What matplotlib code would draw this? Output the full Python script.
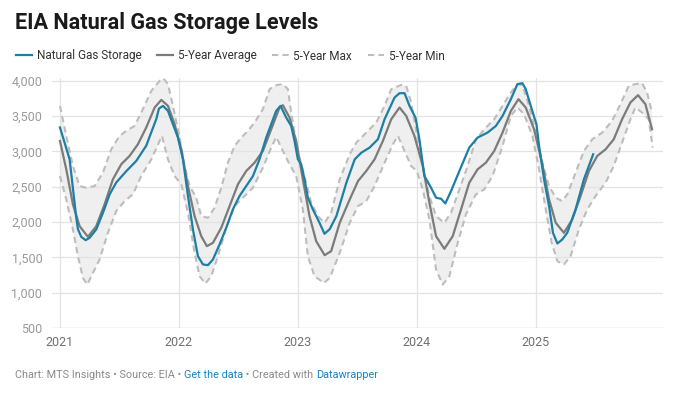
import matplotlib
matplotlib.use("Agg")
import matplotlib.pyplot as plt
import numpy as np

plt.rcParams["font.family"] = ["Roboto", "DejaVu Sans"]

# decimal years (x) and Bcf (y)
storage_x = [2021.0, 2021.081, 2021.137, 2021.151, 2021.179, 2021.216, 2021.249, 2021.305,
             2021.361, 2021.417, 2021.473, 2021.557, 2021.641, 2021.725, 2021.810, 2021.832,
             2021.866, 2021.908, 2021.950, 2021.992, 2022.034, 2022.076, 2022.118, 2022.160,
             2022.202, 2022.244, 2022.286, 2022.342, 2022.398, 2022.454, 2022.510, 2022.566,
             2022.622, 2022.678, 2022.734, 2022.776, 2022.818, 2022.854, 2022.902, 2022.944,
             2022.972, 2023.0, 2023.028, 2023.056, 2023.084, 2023.126, 2023.182, 2023.224,
             2023.268, 2023.324, 2023.408, 2023.478, 2023.534, 2023.603, 2023.673, 2023.729,
             2023.813, 2023.855, 2023.897, 2023.939, 2023.989, 2024.022, 2024.064, 2024.120,
             2024.162, 2024.204, 2024.240, 2024.288, 2024.358, 2024.441, 2024.511, 2024.595,
             2024.665, 2024.721, 2024.791, 2024.846, 2024.888, 2024.916, 2024.958, 2025.006,
             2025.028, 2025.070, 2025.112, 2025.145, 2025.182, 2025.223, 2025.265, 2025.335,
             2025.405, 2025.483]
storage_y = [3340, 2890, 2060, 1900, 1790, 1744, 1777, 1895,
             2130, 2390, 2560, 2720, 2865, 3080, 3460, 3607,
             3645, 3575, 3385, 3196, 2890, 2370, 1895, 1517,
             1400, 1390, 1470, 1683, 1920, 2180, 2370, 2510,
             2650, 2890, 3196, 3385, 3575, 3645, 3480, 3361,
             3150, 2890, 2820, 2605, 2345, 2180, 1990, 1834,
             1900, 2085, 2557, 2888, 2983, 3054, 3172, 3456,
             3763, 3825, 3825, 3645, 3480, 3172, 2652, 2486,
             2345, 2330, 2264, 2439, 2723, 3054, 3196, 3267,
             3361, 3503, 3740, 3953, 3967, 3882, 3645, 3385,
             3078, 2605, 2226, 1848, 1697, 1753, 1848, 2180,
             2605, 2960]

avg_x = [2021.0, 2021.053, 2021.109, 2021.165, 2021.235, 2021.305, 2021.375, 2021.445,
         2021.515, 2021.585, 2021.655, 2021.725, 2021.796, 2021.852, 2021.908, 2021.964,
         2022.020, 2022.076, 2022.132, 2022.188, 2022.235, 2022.286, 2022.356, 2022.426,
         2022.496, 2022.566, 2022.636, 2022.706, 2022.776, 2022.846, 2022.874, 2022.930,
         2022.986, 2023.042, 2023.098, 2023.154, 2023.225, 2023.280, 2023.352, 2023.436,
         2023.506, 2023.575, 2023.645, 2023.715, 2023.785, 2023.855, 2023.911, 2023.980,
         2024.050, 2024.106, 2024.162, 2024.232, 2024.302, 2024.372, 2024.441, 2024.511,
         2024.581, 2024.651, 2024.721, 2024.791, 2024.855, 2024.916, 2024.986, 2025.056,
         2025.112, 2025.168, 2025.237, 2025.307, 2025.377, 2025.447, 2025.517, 2025.587,
         2025.656, 2025.726, 2025.796, 2025.860, 2025.922, 2025.978]
avg_y = [3149, 2747, 2250, 1942, 1791, 1942, 2250, 2605,
         2818, 2936, 3101, 3338, 3622, 3730, 3645, 3385,
         3030, 2510, 2084, 1800, 1659, 1706, 1919, 2226,
         2534, 2723, 2841, 3007, 3314, 3622, 3655, 3480,
         3149, 2605, 2084, 1730, 1531, 1588, 1990, 2320,
         2581, 2723, 2888, 3149, 3456, 3622, 3503, 3220,
         2794, 2274, 1800, 1621, 1800, 2179, 2557, 2746,
         2841, 3007, 3267, 3574, 3740, 3622, 3314, 2818,
         2321, 1990, 1848, 2037, 2368, 2723, 2936, 3030,
         3172, 3456, 3693, 3797, 3669, 3314]

max_x = [2021.0, 2021.053, 2021.109, 2021.165, 2021.221, 2021.291, 2021.361, 2021.431,
         2021.501, 2021.557, 2021.627, 2021.697, 2021.768, 2021.838, 2021.871, 2021.908,
         2021.950, 2022.006, 2022.048, 2022.090, 2022.146, 2022.188, 2022.244, 2022.300,
         2022.356, 2022.412, 2022.468, 2022.524, 2022.580, 2022.636, 2022.706, 2022.762,
         2022.818, 2022.874, 2022.916, 2022.944, 2022.986, 2023.028, 2023.070, 2023.112,
         2023.168, 2023.224, 2023.280, 2023.352, 2023.436, 2023.492, 2023.575, 2023.659,
         2023.729, 2023.785, 2023.869, 2023.911, 2023.953, 2024.0, 2024.050, 2024.106,
         2024.162, 2024.232, 2024.288, 2024.358, 2024.427, 2024.497, 2024.581, 2024.651,
         2024.721, 2024.791, 2024.846, 2024.888, 2024.944, 2025.0, 2025.056, 2025.112,
         2025.168, 2025.223, 2025.265, 2025.335, 2025.405, 2025.475, 2025.559, 2025.642,
         2025.712, 2025.782, 2025.838, 2025.894, 2025.936, 2025.978]
max_y = [3645, 3220, 2794, 2510, 2486, 2510, 2699, 3030,
         3220, 3290, 3361, 3598, 3858, 4000, 4033, 3953,
         3645, 3196, 2794, 2510, 2345, 2084, 2061, 2203,
         2486, 2841, 3078, 3196, 3290, 3409, 3598, 3882,
         3939, 3953, 3882, 3550, 3125, 2818, 2557, 2274,
         2084, 1990, 2132, 2605, 2960, 3125, 3267, 3409,
         3645, 3882, 3943, 3929, 3693, 3244, 2794, 2368,
         2084, 1990, 2132, 2463, 2794, 3172, 3338, 3456,
         3645, 3834, 3953, 3939, 3645, 3267, 2841, 2510,
         2345, 2297, 2392, 2699, 3007, 3172, 3267, 3433,
         3669, 3929, 3953, 3967, 3834, 3550]

min_x = [2021.0, 2021.053, 2021.109, 2021.151, 2021.193, 2021.230, 2021.277, 2021.333,
         2021.403, 2021.473, 2021.543, 2021.613, 2021.683, 2021.768, 2021.857, 2021.908,
         2021.964, 2022.020, 2022.076, 2022.132, 2022.174, 2022.222, 2022.272, 2022.328,
         2022.398, 2022.468, 2022.538, 2022.622, 2022.706, 2022.770, 2022.818, 2022.874,
         2022.930, 2022.986, 2023.042, 2023.084, 2023.140, 2023.220, 2023.268, 2023.352,
         2023.436, 2023.506, 2023.575, 2023.645, 2023.729, 2023.799, 2023.841, 2023.897,
         2023.953, 2024.0, 2024.050, 2024.106, 2024.162, 2024.218, 2024.274, 2024.344,
         2024.413, 2024.497, 2024.567, 2024.637, 2024.721, 2024.791, 2024.846, 2024.902,
         2024.972, 2025.028, 2025.084, 2025.134, 2025.182, 2025.237, 2025.293, 2025.363,
         2025.433, 2025.503, 2025.587, 2025.656, 2025.726, 2025.796, 2025.838, 2025.894,
         2025.950, 2025.983]
min_y = [2652, 2321, 1895, 1517, 1209, 1115, 1280, 1469,
         1848, 2155, 2297, 2392, 2652, 2888, 3220, 2888,
         2652, 2534, 2132, 1564, 1233, 1129, 1233, 1517,
         1919, 2226, 2345, 2486, 2770, 3030, 3205, 3007,
         2818, 2652, 2179, 1517, 1233, 1138, 1209, 1564,
         1990, 2226, 2297, 2510, 2841, 3101, 3220, 3007,
         2794, 2723, 2463, 2037, 1328, 1115, 1233, 1706,
         2108, 2392, 2463, 2652, 3078, 3503, 3622, 3527,
         3220, 2747, 2179, 1706, 1446, 1399, 1517, 1895,
         2179, 2368, 2557, 2794, 3125, 3456, 3622, 3550,
         3456, 3054]

years = [2021, 2022, 2023, 2024, 2025]
y_ticks = [500, 1000, 1500, 2000, 2500, 3000, 3500, 4000]

BLUE = "#1d7fa3"
AVG = "#7b7b7b"
DASH = "#bdbdbd"
GRID = "#e3e3e3"

fig = plt.figure(figsize=(6.82, 3.96), dpi=100)
ax = fig.add_axes([52 / 682, 1 - 328 / 396, 611 / 682, (328 - 78) / 396])

# shaded 5-year range: upper edge out, lower edge back
ax.fill(np.concatenate([max_x, min_x[::-1]]), np.concatenate([max_y, min_y[::-1]]),
        color="#efefef", lw=0, zorder=1)
ax.plot(max_x, max_y, color=DASH, lw=1.5, dashes=(3, 2), zorder=2, label="5-Year Max")
ax.plot(min_x, min_y, color=DASH, lw=1.5, dashes=(3, 2), zorder=2, label="5-Year Min")
ax.plot(avg_x, avg_y, color=AVG, lw=1.6, zorder=3, label="5-Year Average")
ax.plot(storage_x, storage_y, color=BLUE, lw=1.6, zorder=4, label="Natural Gas Storage")

ax.set_xlim(2020.933, 2026.07)
ax.set_ylim(500, 4040)
ax.set_xticks(years)
ax.set_xticklabels([str(y) for y in years])
ax.set_yticks(y_ticks)
ax.set_yticklabels([f"{v:,}" for v in y_ticks])
ax.grid(True, color=GRID, lw=0.9, zorder=0)
for s in ax.spines.values():
    s.set_visible(False)
ax.axhline(500, color="#d0d0d0", lw=0.9, zorder=0)
ax.tick_params(axis="both", length=0, labelsize=9)
ax.tick_params(axis="y", colors="#9a9a9a", pad=7)
ax.tick_params(axis="x", colors="#707070", pad=6)

fig.text(15 / 682, 1 - 29 / 396, "EIA Natural Gas Storage Levels", fontsize=15.6,
         fontweight="bold", color="#1a1a1a", va="baseline")

handles, labels = ax.get_legend_handles_labels()
order = [3, 2, 0, 1]
fig.legend([handles[i] for i in order], [labels[i] for i in order],
           loc="center left", bbox_to_anchor=(5 / 682, 1 - 56 / 396), ncol=4,
           frameon=False, fontsize=8.5, handlelength=1.4, handletextpad=0.4,
           columnspacing=1.3, labelcolor="#333333")

# footer with coloured link words
renderer = fig.canvas.get_renderer()
x = 15 / 682
parts = [("Chart: MTS Insights • Source: EIA • ", "#8a8a8a"), ("Get the data", "#1a84c7"),
         (" • Created with ", "#8a8a8a"), ("Datawrapper", "#1a84c7")]
for txt, col in parts:
    t = fig.text(x, 1 - 378 / 396, txt, fontsize=7.8, color=col, va="baseline")
    bb = t.get_window_extent(renderer=renderer)
    x += bb.width / fig.bbox.width

fig.savefig("out.png", dpi=100)
